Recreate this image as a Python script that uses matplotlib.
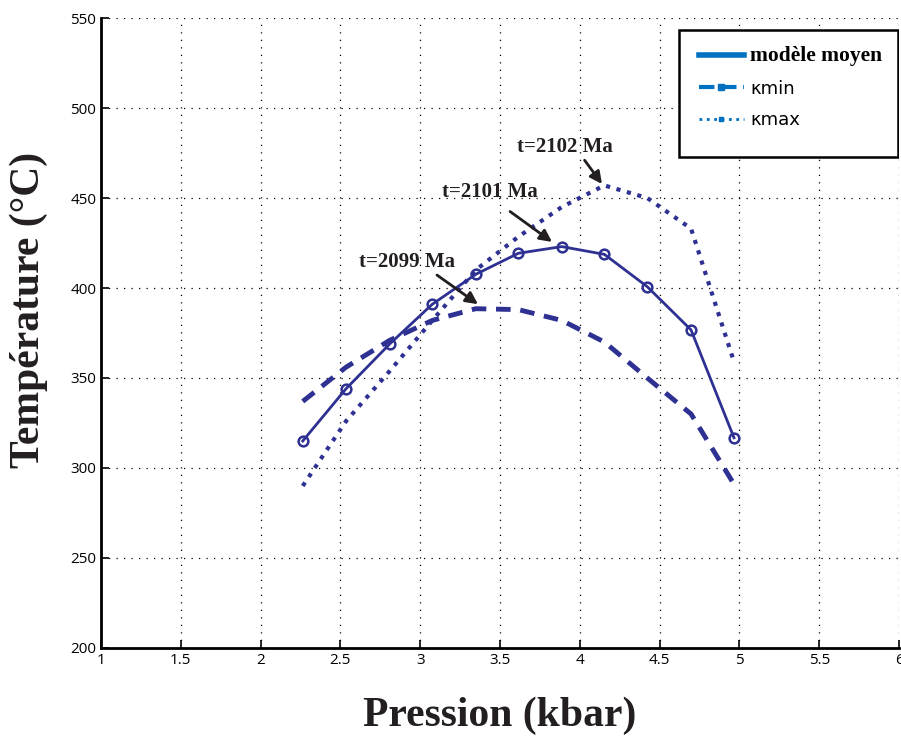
import matplotlib
matplotlib.use("Agg")
import matplotlib.pyplot as plt
from matplotlib.patches import Rectangle

# data
pression = [2.264, 2.535, 2.81, 3.076, 3.348, 3.615, 3.887, 4.154, 4.423, 4.697, 4.966]
t_moyen = [315, 344, 369, 391, 407.6, 419.3, 423, 418.7, 400.7, 376.7, 316.8]
t_kmin = [337, 356, 371, 382, 388.5, 388, 382, 370, 350, 330, 291]
t_kmax = [290, 326, 354, 382, 410, 428.5, 445, 457, 450, 433, 359]

labels = ["modèle moyen", "κmin", "κmax"]
annot_text = ["t=2099 Ma", "t=2101 Ma", "t=2102 Ma"]
annot_txt_xy = [(2.917, 414.5), (3.437, 453.5), (3.907, 478.5)]
arrow_from = [(3.105, 407.2), (3.563, 442.5), (4.03, 471)]
arrow_to = [(3.362, 391), (3.826, 425.6), (4.139, 457.8)]

col = "#2E3192"
leg_col = "#0070C0"
txt_col = "#231f20"

fig = plt.figure(figsize=(9.01, 7.36), dpi=100)
ax = fig.add_axes([0.1121, 0.1196, 0.8857, 0.8559])

ax.plot(pression, t_moyen, color=col, lw=2, marker="o", ms=7, mfc="none", mew=1.8)
ax.plot(pression, t_kmin, color=col, lw=3.5, ls=(0, (3, 2)))
ax.plot(pression, t_kmax, color=col, lw=3, ls=(0, (1, 1.6)))

for txt, xyt in zip(annot_text, annot_txt_xy):
    ax.text(xyt[0], xyt[1], txt, fontsize=15, fontweight="bold",
            family="Liberation Serif", color=txt_col, ha="center", va="center")
for a, b in zip(arrow_from, arrow_to):
    ax.annotate("", xy=b, xytext=a,
                arrowprops=dict(arrowstyle="-|>", color=txt_col, lw=2,
                                mutation_scale=18, shrinkA=0, shrinkB=0))

ax.set_xlim(1, 6)
ax.set_ylim(200, 550)
ax.set_xticks([1, 1.5, 2, 2.5, 3, 3.5, 4, 4.5, 5, 5.5, 6])
ax.set_xticklabels(["1", "1.5", "2", "2.5", "3", "3.5", "4", "4.5", "5", "5.5", "6"])
ax.set_yticks(range(200, 551, 50))
ax.grid(True, color="black", ls=(0, (1, 5)), lw=0.9)
ax.spines["top"].set_visible(False)
ax.spines["right"].set_visible(False)
ax.spines["left"].set_linewidth(2)
ax.spines["bottom"].set_linewidth(2)
ax.tick_params(direction="in", length=6, width=1.2, labelsize=11)
for lab in ax.get_xticklabels() + ax.get_yticklabels():
    lab.set_family("Open Sans")

ax.set_xlabel("Pression (kbar)", fontsize=30, fontweight="bold",
              family="Liberation Serif", labelpad=21, color=txt_col)
ax.set_ylabel("Température (°C)", fontsize=30, fontweight="bold",
              family="Liberation Serif", color=txt_col)
ax.yaxis.set_label_coords(-0.066, 0.536)

# legend box drawn by hand (it has extra room under the entries)
ax.add_patch(Rectangle((0.7243, 0.7794), 0.2744, 0.2016, transform=ax.transAxes,
                       facecolor="white", edgecolor="black", lw=1.8, zorder=5))
h1, = ax.plot([], [], color=leg_col, lw=4)
h2, = ax.plot([], [], color=leg_col, lw=3, ls="--", marker="s", ms=4)
h3, = ax.plot([], [], color=leg_col, lw=2, ls=":", marker="s", ms=3)
leg = ax.legend([h1, h2, h3], labels, loc="upper left",
                bbox_to_anchor=(0.7243, 0.987), frameon=False,
                handlelength=2.5, handletextpad=0.35, labelspacing=0.75,
                borderpad=0.6, fontsize=13)
leg.set_zorder(6)
texts = leg.get_texts()
texts[0].set_fontsize(15.5)
texts[0].set_fontweight("bold")
texts[0].set_family("Liberation Serif")

fig.savefig("out.png", dpi=100)
